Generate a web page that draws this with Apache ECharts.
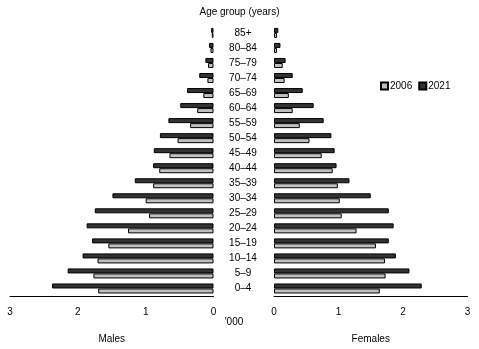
<!DOCTYPE html>
<html>
<head>
<meta charset="utf-8">
<script src="https://cdn.jsdelivr.net/npm/echarts@6/dist/echarts.min.js"></script>
<style>
  html, body { margin: 0; padding: 0; background: #fff; }
  #chart { width: 479px; height: 349px; }
</style>
</head>
<body>
<div id="chart"></div>
<script>
// Age groups, youngest first (bottom of the pyramid)
const ageGroups = ['0–4', '5–9', '10–14', '15–19', '20–24', '25–29', '30–34', '35–39',
  '40–44', '45–49', '50–54', '55–59', '60–64', '65–69', '70–74', '75–79', '80–84', '85+'];

// Population ('000), males
const males2006 = [1.70, 1.77, 1.71, 1.55, 1.26, 0.95, 1.00, 0.89, 0.80, 0.65, 0.53, 0.345, 0.24, 0.15, 0.09, 0.08, 0.045, 0.025];
const males2021 = [2.38, 2.15, 1.93, 1.79, 1.87, 1.75, 1.49, 1.16, 0.89, 0.88, 0.79, 0.665, 0.49, 0.39, 0.21, 0.12, 0.065, 0.035];

// Population ('000), females
const females2006 = [1.64, 1.73, 1.72, 1.58, 1.28, 1.05, 1.02, 0.99, 0.91, 0.74, 0.55, 0.40, 0.29, 0.23, 0.165, 0.135, 0.047, 0.047];
const females2021 = [2.29, 2.10, 1.89, 1.78, 1.855, 1.78, 1.50, 1.17, 0.97, 0.94, 0.89, 0.77, 0.615, 0.445, 0.29, 0.18, 0.10, 0.067];

// Scale ticks
const xTicks = [0, 1, 2, 3];

const FONT = '"Liberation Sans", Arial, sans-serif';
const DARK = '#333333';
const LIGHT = '#c0c0c0';

const chart = echarts.init(document.getElementById('chart'), null, { renderer: 'canvas' });

function valueAxis(gridIndex, inverse, name) {
  return {
    type: 'value',
    gridIndex: gridIndex,
    min: xTicks[0],
    max: xTicks[xTicks.length - 1],
    interval: 1,
    inverse: inverse,
    axisLine: { show: true, onZero: false, lineStyle: { color: '#000', width: 1 } },
    axisTick: { show: false },
    splitLine: { show: false },
    axisLabel: { margin: 11, fontSize: 10, color: '#000', fontFamily: FONT },
    name: name,
    nameLocation: 'middle',
    nameGap: 38,
    nameTextStyle: { fontSize: 10, color: '#000', fontFamily: FONT }
  };
}

function barSeries(name, data, xi, yi, color) {
  return {
    name: name,
    type: 'bar',
    xAxisIndex: xi,
    yAxisIndex: yi,
    data: data,
    barWidth: 5,
    barGap: '0%',
    itemStyle: { color: color, borderColor: '#000', borderWidth: 1 },
    emphasis: { disabled: true },
    animation: false
  };
}

chart.setOption({
  animation: false,
  textStyle: { fontFamily: FONT },
  legend: {
    data: ['2006', '2021'],
    left: 375,
    top: 76,
    icon: 'rect',
    itemWidth: 7,
    itemHeight: 7,
    itemGap: 6,
    textStyle: { fontSize: 10, color: '#000', fontFamily: FONT, padding: [0, 0, 0, -3] },
    selectedMode: false
  },
  grid: [
    { left: 10, width: 203.5, top: 25.4, height: 274 },
    { left: 274, width: 193.5, top: 25.4, height: 274 }
  ],
  xAxis: [
    valueAxis(0, true, 'Males'),
    valueAxis(1, false, 'Females')
  ],
  yAxis: [
    {
      type: 'category', gridIndex: 0, data: ageGroups, position: 'right',
      axisLine: { show: false }, axisTick: { show: false }, axisLabel: { show: false }
    },
    {
      type: 'category', gridIndex: 1, data: ageGroups, position: 'left',
      axisLine: { show: false }, axisTick: { show: false },
      axisLabel: { margin: 31, align: 'center', fontSize: 10, color: '#000', fontFamily: FONT }
    }
  ],
  graphic: [
    {
      type: 'text', left: 'center', top: 7,
      style: { text: 'Age group (years)', fontSize: 10, fill: '#000', fontFamily: FONT }
    },
    {
      type: 'text', x: 234, y: 322,
      style: { text: "'000", fontSize: 10, fill: '#000', fontFamily: FONT, align: 'center', verticalAlign: 'middle' }
    }
  ],
  // 2021 listed first so it sits above 2006 within each age group
  series: [
    barSeries('2021', males2021, 0, 0, DARK),
    barSeries('2006', males2006, 0, 0, LIGHT),
    barSeries('2021', females2021, 1, 1, DARK),
    barSeries('2006', females2006, 1, 1, LIGHT)
  ]
});
</script>
</body>
</html>
